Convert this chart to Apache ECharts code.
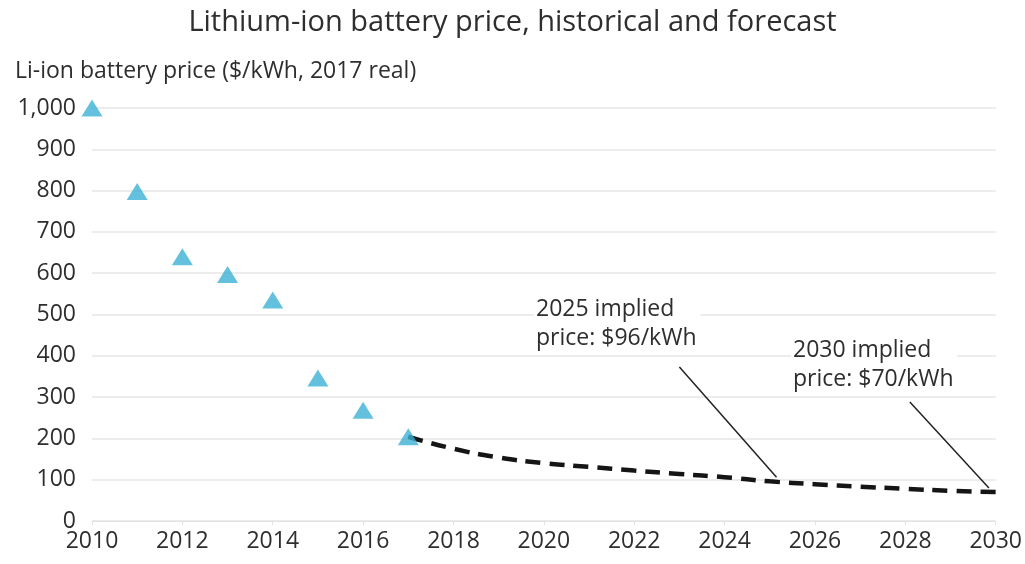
<!DOCTYPE html>
<html>
<head>
<meta charset="utf-8">
<script src="https://cdn.jsdelivr.net/npm/echarts@6/dist/echarts.min.js"></script>
<style>
  html, body { margin: 0; padding: 0; background: #fff; }
  #chart { width: 1025px; height: 564px; }
</style>
</head>
<body>
<div id="chart"></div>
<script>
// historical prices ($/kWh, 2017 real)
const histYears = [2010, 2011, 2012, 2013, 2014, 2015, 2016, 2017]
const histPrice = [1000, 798, 640, 597, 535, 346, 268, 204]

// implied forecast
const fcYears = [2017, 2018, 2019, 2020, 2021, 2022, 2023, 2024, 2025, 2026, 2027, 2028, 2029, 2030]
const fcPrice = [204, 175, 154, 140, 131, 122, 114, 106, 96, 89, 83, 78, 73, 70]

// callout leader lines, [year, price] start -> end
const callouts = [
  { text: '2025 implied\nprice: $96/kWh', from: [2023.0, 373], to: [2025.15, 106] },
  { text: '2030 implied\nprice: $70/kWh', from: [2028.1, 288], to: [2029.85, 80] }
]

const font = '"Open Sans", "Noto Sans", sans-serif'
const textColor = '#2e2e2e'

const chart = echarts.init(document.getElementById('chart'))

chart.setOption({
  animation: false,
  title: [{
    text: 'Lithium-ion battery price, historical and forecast',
    left: 'center',
    top: 3,
    textStyle: { fontFamily: font, fontSize: 29, fontWeight: 'normal', color: textColor }
  }, {
    text: 'Li-ion battery price ($/kWh, 2017 real)',
    left: 10,
    top: 55,
    textStyle: { fontFamily: font, fontSize: 23, fontWeight: 'normal', color: textColor }
  }],
  grid: { left: 92, right: 28, top: 108, bottom: 43 },
  xAxis: {
    type: 'value',
    min: 2010,
    max: 2030,
    interval: 2,
    axisLine: { show: true, lineStyle: { color: '#e2e2e2' } },
    axisTick: { show: true, length: 4, lineStyle: { color: '#e2e2e2' } },
    splitLine: { show: false },
    axisLabel: {
      fontFamily: font, fontSize: 23, color: textColor, margin: 9,
      formatter: v => String(v)
    }
  },
  yAxis: {
    type: 'value',
    min: 0,
    max: 1000,
    interval: 100,
    axisLine: { show: false },
    axisTick: { show: false },
    splitLine: { lineStyle: { color: '#ececec', width: 2 } },
    axisLabel: {
      fontFamily: font, fontSize: 23, color: textColor, margin: 16,
      formatter: v => v.toLocaleString('en-US')
    }
  },
  series: [{
    name: 'Forecast',
    type: 'line',
    data: fcYears.map((y, i) => [y, fcPrice[i]]),
    smooth: true,
    showSymbol: false,
    lineStyle: { color: '#151515', width: 4.5, type: [15, 9] },
    z: 2,
    markLine: {
      silent: true,
      symbol: 'none',
      label: { show: false },
      lineStyle: { color: '#222', width: 1.5, type: 'solid' },
      data: callouts.map(c => [{ coord: c.from }, { coord: c.to }])
    }
  }, {
    name: 'Historical',
    type: 'scatter',
    data: histYears.map((y, i) => [y, histPrice[i]]),
    symbol: 'triangle',
    symbolSize: [21, 17],
    itemStyle: { color: '#3db2d6' },
    z: 3
  }],
  graphic: [{
    type: 'text',
    left: 534,
    top: 295,
    z: 10,
    style: {
      text: callouts[0].text, fontFamily: font, fontSize: 23, fill: textColor,
      lineHeight: 29, backgroundColor: '#fff', padding: [0, 4, 0, 2]
    }
  }, {
    type: 'text',
    left: 791,
    top: 336,
    z: 10,
    style: {
      text: callouts[1].text, fontFamily: font, fontSize: 23, fill: textColor,
      lineHeight: 29, backgroundColor: '#fff', padding: [0, 4, 0, 2]
    }
  }]
})
</script>
</body>
</html>
